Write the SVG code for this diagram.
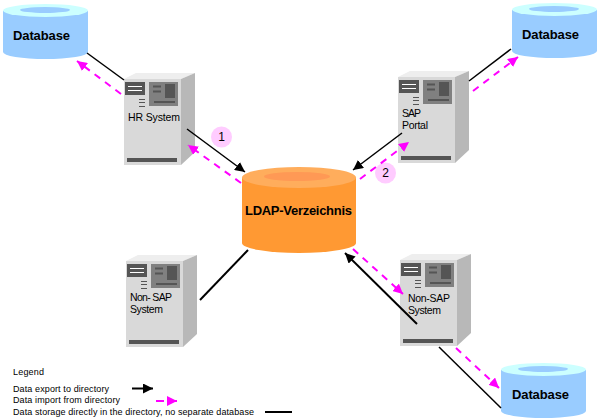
<svg xmlns="http://www.w3.org/2000/svg" width="598" height="419" viewBox="0 0 598 419">
<defs>
<marker id="ab" markerUnits="userSpaceOnUse" markerWidth="11" markerHeight="10" refX="10" refY="5" orient="auto"><path d="M0 0L10 5L0 10z" fill="#000"/></marker>
<marker id="am" markerUnits="userSpaceOnUse" markerWidth="11" markerHeight="10" refX="10" refY="5" orient="auto"><path d="M0 0L10 5L0 10z" fill="#f0f"/></marker>
<g id="server">
<path d="M124 79L136 73H195L181 79z" fill="#eeeeee"/>
<path d="M181 79L195 73V152L181 165z" fill="#b8b8b8"/>
<rect x="124" y="79" width="57" height="86" fill="#d9d9d9"/>
<rect x="125" y="82" width="20" height="13" fill="#555"/>
<path d="M128 86.500H142M128 90.500H142" stroke="#fff" stroke-width="1" fill="none"/>
<rect x="149" y="82" width="29" height="24" fill="#808080"/>
<rect x="165" y="84" width="10" height="14" fill="#555"/>
<path d="M153 86.500H161M153 91.500H161M154 102H175" stroke="#555" stroke-width="2" fill="none"/>
<path d="M139 99.500H145M139 102.500H145M139 106.500H145" stroke="#555" stroke-width="1" fill="none"/>
<rect x="127" y="158" width="50" height="4" fill="#555"/>
</g>
<g id="db">
<path d="M3 11V52A42.500 7 0 0 0 88 52V11z" fill="#99ccff"/>
<ellipse cx="45.500" cy="10.500" rx="42.500" ry="6.500" fill="#ccffff"/>
<ellipse cx="45" cy="10" rx="25" ry="3" fill="#99ccff"/>
</g>
</defs>
<style>
text{font-family:"Liberation Sans",Arial,sans-serif;fill:#000}
.dbt{font-size:13px;font-weight:bold}
.srv{font-size:10.500px}
.leg{font-size:9px}
.b{stroke:#000;stroke-width:1.500;fill:none}
.m{stroke:#f0f;stroke-width:2;stroke-dasharray:7 6;fill:none}
</style>
<rect width="598" height="419" fill="#fff"/>
<g id="db-top-left"><use href="#db"/><text class="dbt" x="13" y="40" textLength="57">Database</text></g>
<g id="db-top-right"><use href="#db" x="509" y="-1"/><text class="dbt" x="522" y="39" textLength="57">Database</text></g>
<g id="db-bottom-right"><use href="#db" x="498" y="359"/><text class="dbt" x="512" y="399" textLength="57">Database</text></g>
<g id="hr-system"><use href="#server"/><text class="srv" x="128" y="121" textLength="52">HR System</text></g>
<g id="sap-portal"><use href="#server" x="274" y="-2"/><text class="srv" x="402" y="117" textLength="19">SAP</text><text class="srv" x="402" y="129" textLength="26">Portal</text></g>
<g id="non-sap-left"><use href="#server" x="2" y="182"/><text class="srv" x="130" y="301" textLength="42">Non- SAP</text><text class="srv" x="130" y="313" textLength="33">System</text></g>
<g id="non-sap-right"><use href="#server" x="276" y="181"/><text class="srv" x="408" y="302" textLength="42">Non-SAP</text><text class="srv" x="408" y="314" textLength="33">System</text></g>
<g id="ldap">
<path d="M242 178V243A57 10 0 0 0 356 243V178z" fill="#ff9933"/>
<ellipse cx="299" cy="177.500" rx="57" ry="10.500" fill="#ffad5c"/>
<ellipse cx="297" cy="176.500" rx="33" ry="4.500" fill="#ff9955"/>
<text x="245" y="215" textLength="107" style="font-size:13px;font-weight:bold">LDAP-Verzeichnis</text>
</g>
<g id="badge-1"><circle cx="221.500" cy="137" r="10.500" fill="#ffccff"/><text x="221.500" y="141" text-anchor="middle" style="font-size:12px">1</text></g>
<g id="badge-2"><circle cx="385.500" cy="173" r="10.500" fill="#ffccff"/><text x="385.500" y="177" text-anchor="middle" style="font-size:12px">2</text></g>
<g id="connectors">
<path class="b" d="M87 53L124 80"/>
<path class="m" d="M121 94L77 61" marker-end="url(#am)"/>
<path class="b" d="M187 129L245 172" marker-end="url(#ab)"/>
<path class="m" d="M241 183L188 145" marker-end="url(#am)"/>
<path class="b" d="M511 49L469 81"/>
<path class="m" d="M473 91L518 57" marker-end="url(#am)"/>
<path class="b" d="M402 133L353 170" marker-end="url(#ab)"/>
<path class="m" d="M360 179L409 142" marker-end="url(#am)"/>
<path d="M248 250L200 300" stroke="#000" stroke-width="2" fill="none"/>
<path d="M417 324L345 253" stroke="#000" stroke-width="2" fill="none" marker-end="url(#ab)"/>
<path class="m" d="M353 249L403 294" marker-end="url(#am)"/>
<path class="b" d="M439 347L501 408"/>
<path class="m" d="M456 348L499 388" marker-end="url(#am)"/>
</g>
<g id="legend">
<text class="leg" x="13" y="375" textLength="31">Legend</text>
<text class="leg" x="13" y="392" textLength="96">Data export to directory</text>
<text class="leg" x="13" y="403" textLength="107">Data import from directory</text>
<text class="leg" x="13" y="415" textLength="241">Data storage directly in the directory, no separate database</text>
<path d="M132 388.500H153" stroke="#000" stroke-width="2" fill="none" marker-end="url(#ab)"/>
<path d="M156 401H177" stroke="#f0f" stroke-width="2" stroke-dasharray="8 5" fill="none" marker-end="url(#am)"/>
<path d="M265 412H292" stroke="#000" stroke-width="2" fill="none"/>
</g>
</svg>
